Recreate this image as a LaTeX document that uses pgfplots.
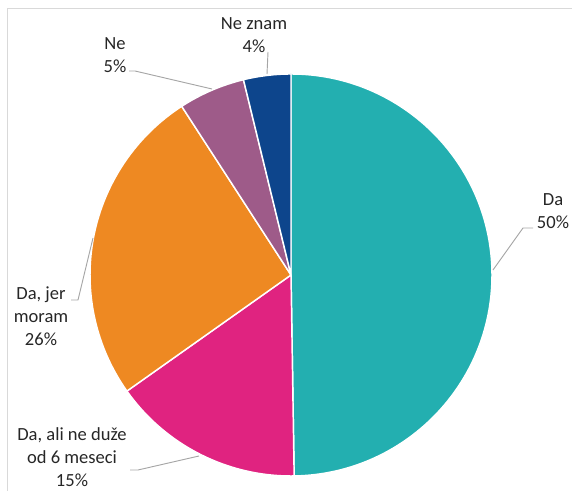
\documentclass[border=0pt]{standalone}
\usepackage{pgfplots}
\usepackage{pgfplotstable}
\pgfplotsset{compat=1.18}
\usepackage{fontspec}
\setmainfont{Carlito}
\definecolor{cDa}{HTML}{23AFB0}
\definecolor{cAli}{HTML}{E02380}
\definecolor{cJer}{HTML}{EE8922}
\definecolor{cNe}{HTML}{9E5B89}
\definecolor{cNz}{HTML}{0D458C}
\definecolor{frame}{HTML}{D9D9D9}
\definecolor{leader}{HTML}{A6A6A6}
\pgfplotstableread{
value col
49.75 cDa
15.45 cAli
25.65 cJer
5.35 cNe
3.80 cNz
}\piedata
\begin{document}
\begin{tikzpicture}
\begin{axis}[
  x=0.75pt, y=0.75pt, scale only axis,
  xmin=0, xmax=572, ymin=0, ymax=491,
  hide axis, clip=false,
]
\pgfplotstablegetrowsof{\piedata}
\pgfmathtruncatemacro\N{\pgfplotsretval-1}
\gdef\cum{0}
\pgfplotsforeachungrouped \i in {0,...,\N}{%
  \pgfplotstablegetelem{\i}{value}\of\piedata
  \let\v\pgfplotsretval
  \pgfplotstablegetelem{\i}{col}\of\piedata
  \let\c\pgfplotsretval
  \pgfmathsetmacro\a{90-3.6*\cum}
  \pgfmathsetmacro\b{90-3.6*(\cum+\v)}
  \edef\temp{\noexpand\fill[\c, draw=white, line width=1.1pt, line join=round] (axis cs:291,216) -- ++(\a:150.75pt) arc[start angle=\a, end angle=\b, radius=150.75pt] -- cycle;}
  \temp
  \pgfmathsetmacro\newcum{\cum+\v}
  \global\let\cum\newcum
}
% frame
\draw[frame, line width=0.75pt] (axis cs:7,0) -- (axis cs:7,482) -- (axis cs:572,482);
% leader lines
\draw[leader, line width=0.7pt] (axis cs:268,439) -- (axis cs:267,417);
\draw[leader, line width=0.7pt] (axis cs:129,420) -- (axis cs:135,420) -- (axis cs:212,402);
\draw[leader, line width=0.7pt] (axis cs:533,263) -- (axis cs:523,263) -- (axis cs:493,221);
\draw[leader, line width=0.7pt] (axis cs:71,191) -- (axis cs:78,191) -- (axis cs:93,253);
\draw[leader, line width=0.7pt] (axis cs:130,21) -- (axis cs:138,21) -- (axis cs:199,35);
% labels
\tikzset{lab/.style={align=center, inner sep=0pt, font=\fontsize{13.9}{17.2}\selectfont, text=black!85}}
\node[lab] at (axis cs:254,456) {Ne znam\\4\%};
\node[lab] at (axis cs:115,436) {Ne\\5\%};
\node[lab] at (axis cs:553,279.5) {Da\\50\%};
\node[lab] at (axis cs:41,174.5) {Da, jer\\moram\\26\%};
\node[lab] at (axis cs:72,33.5) {Da, ali ne duže\\od 6 meseci\\15\%};
\end{axis}
\pgfresetboundingbox
\path[use as bounding box] (current axis.south west) rectangle (current axis.north east);
\end{tikzpicture}
\end{document}
